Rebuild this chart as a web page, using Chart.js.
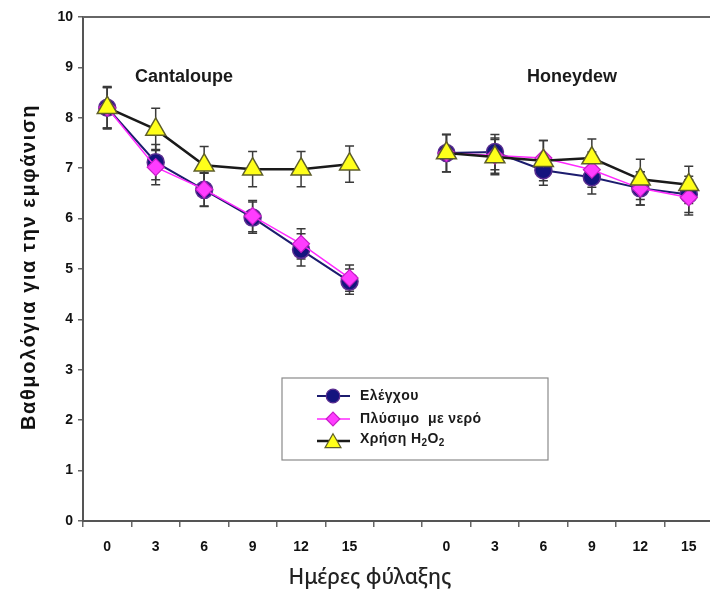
<!DOCTYPE html>
<html>
<head>
<meta charset="utf-8">
<script src="https://cdn.jsdelivr.net/npm/chart.js@4.4.1/dist/chart.umd.min.js"></script>
<style>
  html, body { margin: 0; padding: 0; background: #fff; overflow: hidden; width: 710px; height: 599px; }
  #wrap { width: 726px; height: 599px; }
  canvas { display: block; }
</style>
</head>
<body>
<div id="wrap"><canvas id="c" width="726" height="599" style="width:726px;height:599px"></canvas></div>
<script>
// ---- data ----
const categories = ['0','3','6','9','12','15','','0','3','6','9','12','15'];
const panelNames = ['Cantaloupe', 'Honeydew'];
const seriesNames = ['Ελέγχου', 'Πλύσιμο  με νερό', 'Χρήση H₂O₂'];
const yTicks = [0,1,2,3,4,5,6,7,8,9,10];

const controlVals = [8.2, 7.12, 6.57, 6.02, 5.38, 4.75, null, 7.3, 7.32, 6.96, 6.82, 6.6, 6.48];
const waterVals   = [8.2, 7.02, 6.58, 6.05, 5.5, 4.82, null, 7.3, 7.25, 7.2, 6.97, 6.6, 6.42];
const h2o2Vals    = [8.2, 7.77, 7.06, 6.98, 6.98, 7.08, null, 7.3, 7.22, 7.15, 7.2, 6.78, 6.67];

const controlErr = [0.4, 0.35, 0.33, 0.31, 0.32, 0.25, null, 0.37, 0.35, 0.3, 0.33, 0.33, 0.36];
const waterErr   = [0.4, 0.35, 0.33, 0.31, 0.3, 0.26, null, 0.37, 0.35, 0.35, 0.35, 0.33, 0.35];
const h2o2Err    = [0.42, 0.42, 0.37, 0.35, 0.35, 0.36, null, 0.37, 0.35, 0.4, 0.38, 0.4, 0.37];

const errors = [controlErr, waterErr, h2o2Err];

const errorBars = {
  id: 'errorBars',
  beforeDatasetsDraw(chart) {
    const ctx = chart.ctx, ys = chart.scales.y;
    ctx.save();
    ctx.strokeStyle = '#3a3a3a';
    ctx.lineWidth = 1.5;
    chart.data.datasets.forEach((ds, i) => {
      const meta = chart.getDatasetMeta(i);
      ds.data.forEach((v, j) => {
        const e = errors[i][j];
        if (v == null || e == null) return;
        const x = meta.data[j].x;
        const t = ys.getPixelForValue(v + e), b = ys.getPixelForValue(v - e);
        ctx.beginPath();
        ctx.moveTo(x, t); ctx.lineTo(x, b);
        ctx.moveTo(x - 4.5, t); ctx.lineTo(x + 4.5, t);
        ctx.moveTo(x - 4.5, b); ctx.lineTo(x + 4.5, b);
        ctx.stroke();
      });
    });
    ctx.restore();
  }
};

// draws text, rendering the characters ₀-₉ as smaller lowered digits
function drawSubText(ctx, text, x, y, size, family) {
  const subs = '₀₁₂₃₄₅₆₇₈₉';
  let cx = x;
  for (const ch of text) {
    const k = subs.indexOf(ch);
    if (k >= 0) {
      ctx.font = 'bold ' + Math.round(size * 0.7) + 'px ' + family;
      ctx.fillText(String(k), cx, y + size * 0.28);
      cx += ctx.measureText(String(k)).width;
    } else {
      ctx.font = 'bold ' + size + 'px ' + family;
      ctx.fillText(ch, cx, y);
      cx += ctx.measureText(ch).width;
    }
  }
}

const decorations = {
  id: 'decorations',
  afterDraw(chart) {
    const ctx = chart.ctx, a = chart.chartArea;
    ctx.save();
    // top frame line
    ctx.strokeStyle = '#666';
    ctx.lineWidth = 2;
    ctx.beginPath(); ctx.moveTo(a.left, a.top); ctx.lineTo(a.right, a.top); ctx.stroke();

    // panel labels
    ctx.fillStyle = '#1a1a1a';
    ctx.font = 'bold 18px "Liberation Sans", Arial, sans-serif';
    ctx.textAlign = 'center'; ctx.textBaseline = 'middle';
    ctx.fillText(panelNames[0], 184, 77);
    ctx.fillText(panelNames[1], 572, 77);

    // axis titles
    ctx.font = '500 21px "Noto Sans", "Open Sans", sans-serif';
    ctx.fillStyle = '#222';
    ctx.fillText('Ημέρες φύλαξης', 370, 578);
    ctx.save();
    ctx.translate(29, 267);
    ctx.rotate(-Math.PI / 2);
    ctx.font = 'bold 20px "Liberation Sans", Arial, sans-serif';
    ctx.letterSpacing = '1.6px';
    ctx.fillStyle = '#111';
    ctx.fillText('Βαθμολόγια για την εμφάνιση', 0, 0);
    ctx.restore();

    // legend
    const lx = 282, ly = 378, lw = 266, lh = 82;
    ctx.strokeStyle = '#8a8a8a'; ctx.lineWidth = 1.2;
    ctx.strokeRect(lx, ly, lw, lh);
    const rows = [396, 419, 441];
    chart.data.datasets.forEach((ds, i) => {
      const y = rows[i];
      ctx.strokeStyle = ds.borderColor; ctx.lineWidth = ds.borderWidth;
      ctx.beginPath(); ctx.moveTo(317, y); ctx.lineTo(350, y); ctx.stroke();
      ctx.fillStyle = ds.pointBackgroundColor; ctx.strokeStyle = ds.pointBorderColor; ctx.lineWidth = 1.2;
      Chart.helpers.drawPoint(ctx, { pointStyle: ds.pointStyle, radius: ds.pointRadius * 0.8, borderWidth: 1.2 }, 333, y + (i === 2 ? 2 : 0));
      ctx.fillStyle = '#1a1a1a';
      ctx.textAlign = 'left';
      ctx.letterSpacing = '0.4px';
      drawSubText(ctx, seriesNames[i], 360, y - (i === 2 ? 2 : 0), 14, '"Liberation Sans", Arial, sans-serif');
      ctx.letterSpacing = '0px';
    });
    ctx.restore();
  }
};

new Chart(document.getElementById('c'), {
  type: 'line',
  data: {
    labels: categories,
    datasets: [
      { label: seriesNames[0], data: controlVals, order: 3,
        borderColor: '#1c1c6e', borderWidth: 2, tension: 0, spanGaps: false,
        pointStyle: 'circle', pointRadius: 8.5, pointHoverRadius: 8.5,
        pointBackgroundColor: '#14147e', pointBorderColor: '#5a2d90', pointBorderWidth: 1.5 },
      { label: seriesNames[1], data: waterVals, order: 2,
        borderColor: '#ff2aff', borderWidth: 1.5, tension: 0, spanGaps: false,
        pointStyle: 'rectRot', pointRadius: 8.5, pointHoverRadius: 8.5,
        pointBackgroundColor: '#ff3cff', pointBorderColor: '#c81ec8', pointBorderWidth: 1.2 },
      { label: seriesNames[2], data: h2o2Vals, order: 1,
        borderColor: '#1a1a1a', borderWidth: 2.5, tension: 0, spanGaps: false,
        pointStyle: 'triangle', pointRadius: 11.5, pointHoverRadius: 11.5,
        pointBackgroundColor: '#ffff1a', pointBorderColor: '#5e5e2a', pointBorderWidth: 1.5 }
    ]
  },
  options: {
    responsive: false,
    devicePixelRatio: 1,
    animation: false,
    layout: { padding: { top: 17, left: 0, right: 0, bottom: 0 } },
    plugins: { legend: { display: false }, tooltip: { enabled: false } },
    scales: {
      x: {
        type: 'category',
        offset: true,
        grid: { offset: true, drawOnChartArea: false, tickLength: 6, color: '#666', lineWidth: 1.5 },
        border: { color: '#555', width: 2 },
        ticks: { font: { family: '"Liberation Sans", Arial, sans-serif', size: 14, weight: 'bold' },
                 color: '#111', padding: 12, maxRotation: 0, autoSkip: false },
        afterFit(s) { s.height = 78; }
      },
      y: {
        min: 0, max: 10,
        afterBuildTicks(s) { s.ticks = yTicks.map(v => ({ value: v })); },
        grid: { drawOnChartArea: false, tickLength: 5, color: '#666', lineWidth: 1.5 },
        border: { color: '#555', width: 2 },
        ticks: { font: { family: '"Liberation Sans", Arial, sans-serif', size: 14, weight: 'bold' },
                 color: '#111', padding: 5 },
        afterFit(s) { s.width = 83; }
      }
    }
  },
  plugins: [errorBars, decorations]
});
</script>
</body>
</html>
